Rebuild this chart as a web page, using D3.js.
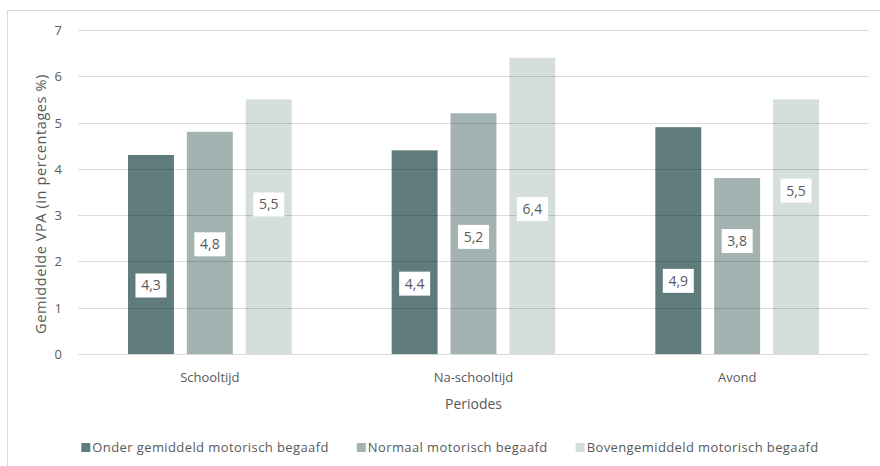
<!DOCTYPE html>
<html>
<head>
<meta charset="utf-8">
<script src="https://cdn.jsdelivr.net/npm/d3@7"></script>
<style>
  body { margin: 0; background: #fff; }
  text { font-family: "Open Sans", sans-serif; fill: #595959; }
</style>
</head>
<body>
<div id="chart"></div>
<script>
// data
var periods = ["Schooltijd", "Na-schooltijd", "Avond"];
var groups = ["Onder gemiddeld motorisch begaafd", "Normaal motorisch begaafd", "Bovengemiddeld motorisch begaafd"];
var onderValues = [4.3, 4.4, 4.9];
var normaalValues = [4.8, 5.2, 3.8];
var bovenValues = [5.5, 6.4, 5.5];
// where each value label sits, in axis units (labels were placed by hand)
var onderLabelAt = [1.48, 1.52, 1.58];
var normaalLabelAt = [2.37, 2.53, 2.44];
var bovenLabelAt = [3.23, 3.13, 3.53];
var yTicks = [0, 1, 2, 3, 4, 5, 6, 7];

var colors = ["#5f7b7b", "#a3b3b2", "#d4dedd"];

var width = 880, height = 466;
var plotLeft = 78, plotRight = 869, plotTop = 30, plotBottom = 354;

var seriesValues = [onderValues, normaalValues, bovenValues];
var seriesLabels = [onderLabelAt, normaalLabelAt, bovenLabelAt];

var rows = [];
periods.forEach(function(p, i) {
    groups.forEach(function(g, j) {
        rows.push({period: p, group: g, idx: j, value: seriesValues[j][i], labelAt: seriesLabels[j][i]});
    });
});

var svg = d3.select("#chart").append("svg")
    .attr("width", width)
    .attr("height", height);

// chart border
svg.append("rect")
    .attr("x", 7.5).attr("y", 10.5)
    .attr("width", 900).attr("height", 500)
    .attr("fill", "none")
    .attr("stroke", "#d9d9d9");

var x0 = d3.scaleBand().domain(periods).range([plotLeft, plotRight]);
var x1 = d3.scaleBand().domain(groups)
    .range([50, x0.bandwidth() - 50])
    .paddingInner(0.22);
var y = d3.scaleLinear().domain([0, 7]).range([plotBottom, plotTop]);

// bars
svg.append("g").selectAll("rect").data(rows)
    .enter().append("rect")
    .attr("x", function(d) { return x0(d.period) + x1(d.group); })
    .attr("y", function(d) { return y(d.value); })
    .attr("width", x1.bandwidth())
    .attr("height", function(d) { return y(0) - y(d.value); })
    .attr("fill", function(d) { return colors[d.idx]; });

// gridlines drawn over the bars, see-through
svg.append("g").selectAll("line").data(yTicks)
    .enter().append("line")
    .attr("x1", plotLeft).attr("x2", plotRight)
    .attr("y1", function(d) { return Math.round(y(d)) + 0.5; })
    .attr("y2", function(d) { return Math.round(y(d)) + 0.5; })
    .attr("stroke", "#000")
    .attr("stroke-opacity", 0.14)
    .attr("stroke-width", 1.2);

// y tick labels
svg.append("g").selectAll("text").data(yTicks)
    .enter().append("text")
    .attr("x", 62)
    .attr("y", function(d) { return y(d) + 5; })
    .attr("text-anchor", "end")
    .style("font-size", "13px")
    .text(function(d) { return d; });

// x labels
svg.append("g").selectAll("text").data(periods)
    .enter().append("text")
    .attr("x", function(d) { return x0(d) + x0.bandwidth() / 2; })
    .attr("y", 382)
    .attr("text-anchor", "middle")
    .style("font-size", "13px")
    .text(function(d) { return d; });

svg.append("text")
    .attr("x", (plotLeft + plotRight) / 2)
    .attr("y", 409)
    .attr("text-anchor", "middle")
    .style("font-size", "14px")
    .text("Periodes");

svg.append("text")
    .attr("transform", "translate(46,204) rotate(-90)")
    .attr("text-anchor", "middle")
    .style("font-size", "14.5px")
    .style("letter-spacing", "0.6px")
    .text("Gemiddelde VPA (in percentages %)");

// value labels in white boxes
var lab = svg.append("g").selectAll("g").data(rows)
    .enter().append("g")
    .attr("transform", function(d) {
        return "translate(" + (x0(d.period) + x1(d.group) + x1.bandwidth() / 2) + "," + y(d.labelAt) + ")";
    });
lab.append("rect")
    .attr("x", -15.5).attr("y", -12)
    .attr("width", 31).attr("height", 24)
    .attr("fill", "#fff");
lab.append("text")
    .attr("y", 5)
    .attr("text-anchor", "middle")
    .style("font-size", "14px")
    .text(function(d) { return String(d.value).replace(".", ","); });

// legend
var legend = svg.append("g");
var items = legend.selectAll("g").data(groups).enter().append("g");
items.append("rect")
    .attr("y", 443)
    .attr("width", 9).attr("height", 9)
    .attr("fill", function(d, i) { return colors[i]; });
items.append("text")
    .attr("x", 11)
    .attr("y", 452)
    .style("font-size", "13px")
    .style("letter-spacing", "0.4px")
    .text(function(d) { return d; });

var widths = [];
items.each(function() { widths.push(this.getBBox().width); });
var gap = 28;
var total = d3.sum(widths) + gap * (widths.length - 1);
var pos = 450 - total / 2;
items.attr("transform", function(d, i) {
    var t = "translate(" + pos + ",0)";
    pos += widths[i] + gap;
    return t;
});
</script>
</body>
</html>
